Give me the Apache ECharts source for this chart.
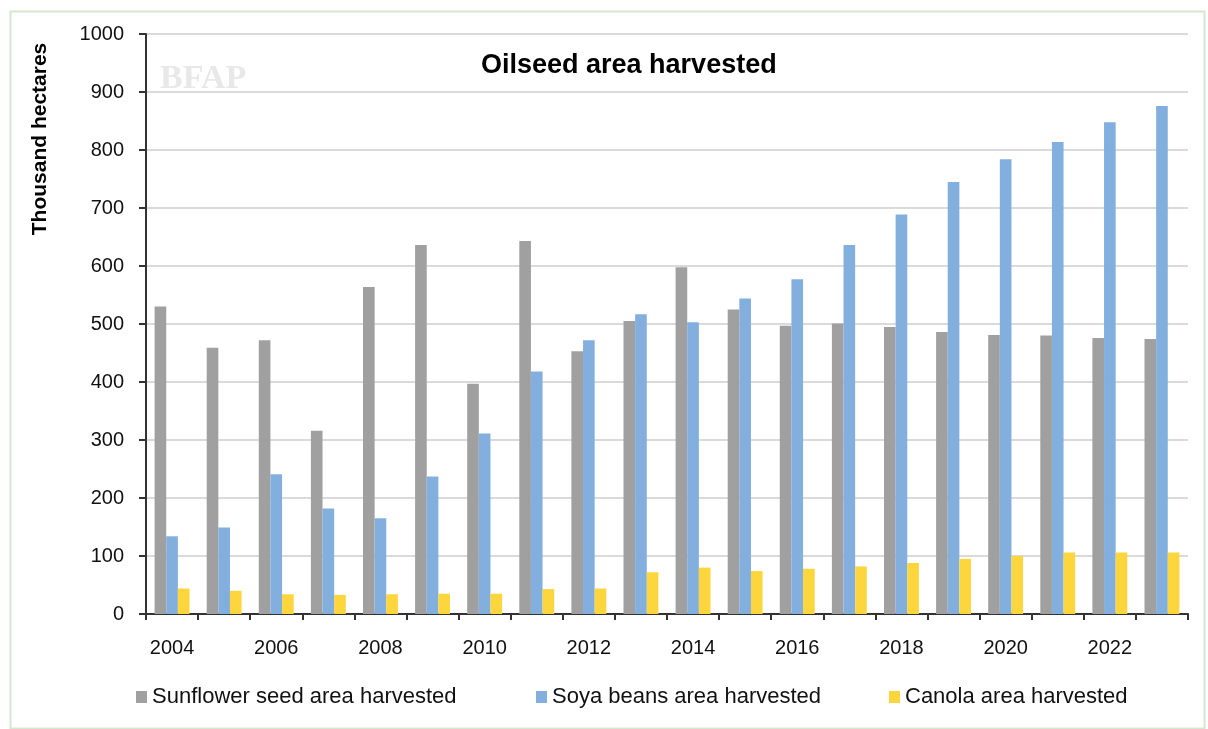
<html>
<head>
<meta charset="utf-8">
<script src="https://cdn.jsdelivr.net/npm/echarts@6/dist/echarts.min.js"></script>
<style>
  html, body { margin: 0; padding: 0; background: #fff; }
  #chart { width: 1208px; height: 729px; }
</style>
</head>
<body>
<div id="chart"></div>
<script type="text/javascript">
// years on the x axis
var years = ['2004','2005','2006','2007','2008','2009','2010','2011','2012','2013',
             '2014','2015','2016','2017','2018','2019','2020','2021','2022','2023'];
// thousand hectares
var sunflower = [530, 459, 472, 316, 564, 636, 397, 643, 453, 505,
                 598, 525, 497, 501, 495, 486, 481, 480, 476, 474];
var soya = [134, 149, 241, 182, 165, 237, 311, 418, 472, 517,
            503, 544, 577, 636, 689, 745, 784, 814, 848, 876];
var canola = [44, 40, 34, 33, 34, 35, 35, 43, 44, 72,
              80, 74, 78, 82, 88, 95, 100, 106, 106, 106];
var seriesNames = ['Sunflower seed area harvested', 'Soya beans area harvested', 'Canola area harvested'];
var yTicks = [0, 1000, 100];

var FONT = '"Liberation Sans", Arial, sans-serif';

var chart = echarts.init(document.getElementById('chart'), null, { renderer: 'canvas' });

function legendAt(name, x) {
    return {
        data: [name],
        bottom: 16,
        left: x,
        icon: 'rect',
        itemWidth: 11,
        itemHeight: 12,
        textStyle: { fontFamily: FONT, fontSize: 22, color: '#111' }
    };
}

var option = {
    animation: false,
    textStyle: { fontFamily: FONT },
    title: {
        text: 'Oilseed area harvested',
        left: 476,
        top: 47,
        textStyle: { fontFamily: FONT, fontSize: 27, fontWeight: 'bold', color: '#000' }
    },
    grid: { left: 146, right: 20, top: 34, bottom: 115, containLabel: false },
    legend: [
        legendAt(seriesNames[0], 131),
        legendAt(seriesNames[1], 531),
        legendAt(seriesNames[2], 884)
    ],
    xAxis: {
        type: 'category',
        data: years,
        boundaryGap: true,
        axisLine: { lineStyle: { color: '#333', width: 2 } },
        axisTick: { show: true, interval: 0, length: 6, lineStyle: { color: '#333', width: 2 } },
        axisLabel: { interval: 1, margin: 24, fontSize: 20, color: '#111', fontFamily: FONT }
    },
    yAxis: {
        type: 'value',
        min: yTicks[0],
        max: yTicks[1],
        interval: yTicks[2],
        axisLine: { show: true, lineStyle: { color: '#333', width: 2 } },
        axisTick: { show: true, length: 7, lineStyle: { color: '#333', width: 2 } },
        axisLabel: {
            margin: 22, fontSize: 20, color: '#111', fontFamily: FONT,
            formatter: function (v) { return String(v); }
        },
        splitLine: { show: true, lineStyle: { color: '#dadada', width: 2 } }
    },
    graphic: [
        {
            type: 'rect',
            left: 8, top: 9,
            shape: { width: 1194, height: 717 },
            style: { fill: 'none', stroke: '#d6e7cf', lineWidth: 2 },
            silent: true
        },
        {
            type: 'text',
            left: 160, top: 62,
            style: { text: 'BFAP', font: 'bold 34px "Liberation Serif", serif', fill: '#e8e8e8' },
            silent: true, z: -1
        },
        {
            type: 'text',
            x: 40, y: 139,
            rotation: Math.PI / 2,
            style: {
                text: 'Thousand hectares',
                font: 'bold 21px ' + FONT,
                fill: '#000',
                textAlign: 'center',
                textVerticalAlign: 'middle'
            }
        }
    ],
    series: [
        {
            name: seriesNames[0],
            type: 'bar',
            data: sunflower,
            barGap: '0%',
            barCategoryGap: '33%',
            itemStyle: { color: '#a0a0a0' }
        },
        {
            name: seriesNames[1],
            type: 'bar',
            data: soya,
            itemStyle: { color: '#83afdf' }
        },
        {
            name: seriesNames[2],
            type: 'bar',
            data: canola,
            itemStyle: { color: '#fdd53c' }
        }
    ]
};

chart.setOption(option);
window.addEventListener('resize', chart.resize);
</script>
</body>
</html>
